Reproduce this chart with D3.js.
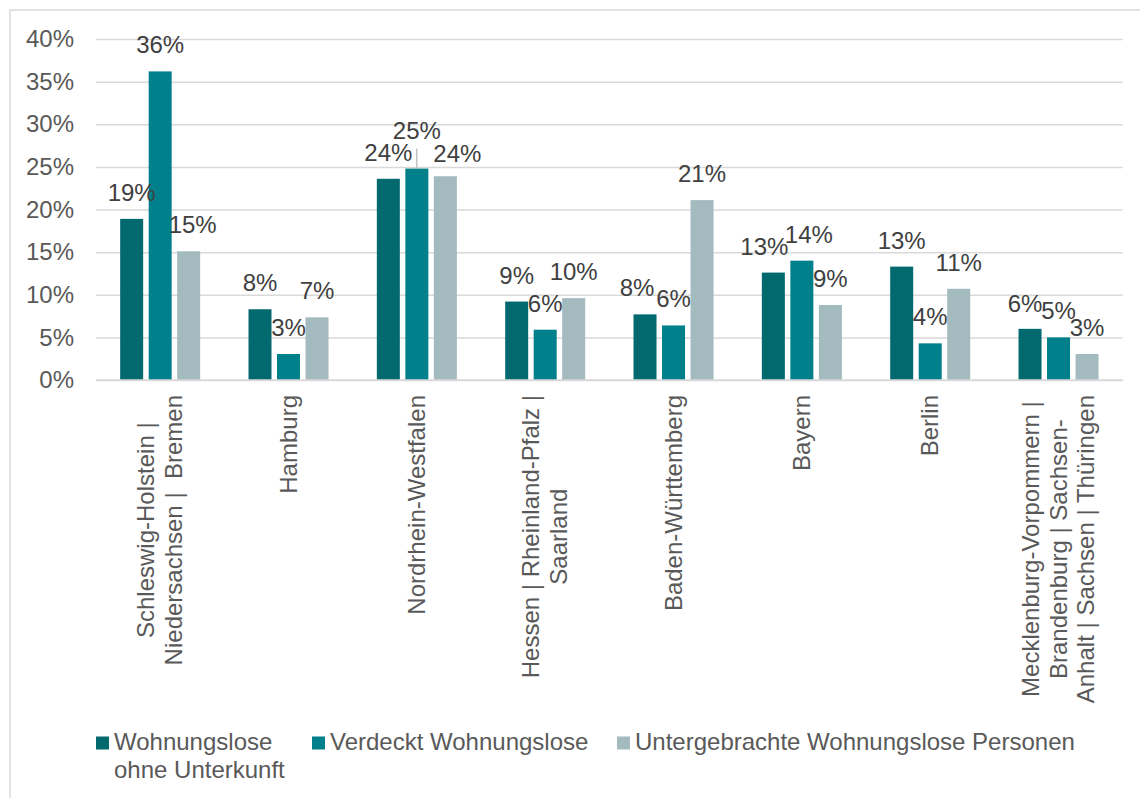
<!DOCTYPE html>
<html>
<head>
<meta charset="utf-8">
<script src="https://cdn.jsdelivr.net/npm/d3@7"></script>
<style>
  html, body { margin: 0; padding: 0; background: #fff; }
  svg { display: block; font-family: "Liberation Sans", Arial, sans-serif; }
</style>
</head>
<body>
<svg id="chart" width="1140" height="798"></svg>
<script>
// ---- data ----
const categories = [
  ["Schleswig-Holstein |", "Niedersachsen |  Bremen"],
  ["Hamburg"],
  ["Nordrhein-Westfalen"],
  ["Hessen | Rheinland-Pfalz |", "Saarland"],
  ["Baden-Württemberg"],
  ["Bayern"],
  ["Berlin"],
  ["Mecklenburg-Vorpommern |", "Brandenburg | Sachsen-", "Anhalt | Sachsen | Thüringen"]
];
const seriesNames = [
  ["Wohnungslose", "ohne Unterkunft"],
  ["Verdeckt Wohnungslose"],
  ["Untergebrachte Wohnungslose Personen"]
];
const ohneUnterkunft = [18.9, 8.3, 23.6, 9.2, 7.7, 12.6, 13.3, 6.0];
const verdeckt       = [36.2, 3.05, 24.8, 5.9, 6.4, 14.0, 4.3, 5.0];
const untergebracht  = [15.1, 7.35, 23.9, 9.6, 21.1, 8.8, 10.7, 3.05];
const yTicks = [0, 5, 10, 15, 20, 25, 30, 35, 40];

// label nudges (category index, series index) -> [dx, dy, leader]
const labelNudges = {
  "0-2": [4, 0, false],
  "2-1": [0, -12, true],
  "2-2": [12, 4, false],
  "4-0": [-8, 0, false],
  "5-0": [-9, 0, false],
  "5-1": [7, 0, false],
  "7-0": [-5, 1, false]
};

const colors = ["#02696F", "#00808A", "#A3BABE"];
const seriesValues = [ohneUnterkunft, verdeckt, untergebracht];

// ---- layout ----
const svg = d3.select("#chart");
const plotLeft = 96, plotRight = 1122.7, plotTop = 39, plotBottom = 380;
const fontSize = 24;

// chart border
svg.append("rect")
  .attr("x", 10).attr("y", 10)
  .attr("width", 1200).attr("height", 900)
  .attr("fill", "#fff").attr("stroke", "#D9D9D9").attr("stroke-width", 1.5);

const catIdx = d3.range(categories.length);
const x0 = d3.scaleBand().domain(catIdx).range([plotLeft, plotRight]).padding(0);
const groupW = x0.bandwidth() * 0.6235;
const x1 = d3.scaleBand().domain([0, 1, 2]).range([0, groupW]).paddingInner(0.193).paddingOuter(0);
const y = d3.scaleLinear().domain([0, 40]).range([plotBottom, plotTop]);

// gridlines
const yAxis = d3.axisLeft(y).tickValues(yTicks).tickFormat(d => d + "%")
  .tickSize(-(plotRight - plotLeft)).tickPadding(22);
const gy = svg.append("g").attr("transform", `translate(${plotLeft},0)`).call(yAxis);
gy.select(".domain").remove();
gy.selectAll(".tick line").attr("stroke", "#D9D9D9").attr("stroke-width", 1.5);
gy.selectAll(".tick text")
  .attr("fill", "#595959").attr("font-size", fontSize)
  .attr("font-family", "'Liberation Sans', Arial, sans-serif");

// bars
const barData = [];
seriesValues.forEach((vals, s) => {
  vals.forEach((v, c) => barData.push({c, s, v}));
});
const groupOffset = (x0.bandwidth() - groupW) / 2;
const barX = d => x0(d.c) + groupOffset + x1(d.s);

svg.append("g").selectAll("rect").data(barData).join("rect")
  .attr("x", barX)
  .attr("y", d => y(d.v))
  .attr("width", x1.bandwidth())
  .attr("height", d => y(0) - y(d.v))
  .attr("fill", d => colors[d.s]);

// baseline axis line
svg.append("line")
  .attr("x1", plotLeft).attr("x2", plotRight)
  .attr("y1", y(0)).attr("y2", y(0))
  .attr("stroke", "#D9D9D9").attr("stroke-width", 1.5);

// data labels
const lblG = svg.append("g");
barData.forEach(d => {
  const key = d.c + "-" + d.s;
  const n = labelNudges[key] || [0, 0, false];
  const cx = barX(d) + x1.bandwidth() / 2;
  const baseY = y(d.v) - 18;
  if (n[2]) {
    lblG.append("line")
      .attr("x1", cx).attr("x2", cx)
      .attr("y1", baseY + n[1] + 10).attr("y2", y(d.v) - 1)
      .attr("stroke", "#A6A6A6").attr("stroke-width", 1);
  }
  lblG.append("text")
    .attr("x", cx + n[0]).attr("y", baseY + n[1])
    .attr("text-anchor", "middle")
    .attr("font-size", fontSize)
    .attr("fill", "#404040")
    .text(Math.round(d.v) + "%");
});

// category labels (rotated)
const lh = 27.8;
categories.forEach((lines, c) => {
  const cx = x0(c) + x0.bandwidth() / 2;
  const g = svg.append("g").attr("transform", `translate(${cx},395) rotate(-90)`);
  const texts = lines.map((ln, i) => g.append("text")
    .attr("text-anchor", "middle")
    .attr("font-size", fontSize)
    .attr("fill", "#595959")
    .style("white-space", "pre")
    .attr("y", (i - (lines.length - 1) / 2) * lh + 0.34 * fontSize)
    .text(ln));
  const maxW = d3.max(texts, t => t.node().getComputedTextLength());
  texts.forEach(t => t.attr("x", -maxW / 2));
});

// legend
const legendX = [96, 312, 617];
seriesNames.forEach((lines, s) => {
  const g = svg.append("g").attr("transform", `translate(${legendX[s]},0)`);
  g.append("rect").attr("x", 0).attr("y", 736.5).attr("width", 13).attr("height", 13)
    .attr("fill", colors[s]);
  lines.forEach((ln, i) => {
    g.append("text")
      .attr("x", 18).attr("y", 749.5 + i * 28)
      .attr("font-size", fontSize)
      .attr("fill", "#595959")
      .text(ln);
  });
});
</script>
</body>
</html>
